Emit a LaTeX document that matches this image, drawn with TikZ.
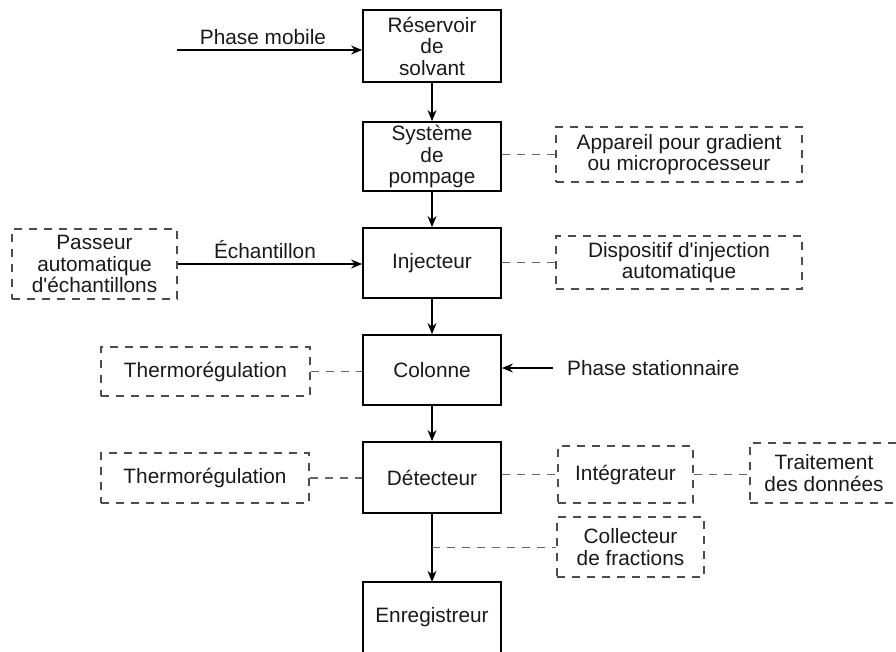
\documentclass[tikz,border=0pt]{standalone}
\usepackage{fontspec}
\setmainfont{Liberation Sans}[Ligatures=TeXOff]
\usetikzlibrary{arrows.meta,calc}
\begin{document}
\begin{tikzpicture}[x=1pt,y=-1pt,
  every node/.append style={font=\fontsize{20.8}{21.5}\selectfont, align=center, inner sep=0pt, text=black!90},
  mainbox/.style={draw, line width=1.8pt, minimum width=138pt},
  auxbox/.style={draw=black!70, dash pattern=on 8pt off 7pt, line width=1.2pt},
  flow/.style={line width=1.3pt, -{Stealth[length=11pt,width=9pt]}},
  link/.style={draw=black!60, dash pattern=on 8pt off 7pt, line width=1.2pt}]
\useasboundingbox (0,0) rectangle (896,651);
% main column
\node[mainbox, minimum height=72pt] (res) at (432,46) {Réservoir\\de\\solvant};
\node[mainbox, minimum height=69pt] (sys) at (432,156.5) {Système\\de\\pompage};
\node[mainbox, minimum height=70pt] (inj) at (432,263) {Injecteur};
\node[mainbox, minimum height=70pt] (col) at (432,370) {Colonne};
\node[mainbox, minimum height=71pt] (det) at (432,477.5) {Détecteur};
\node[minimum width=138pt, minimum height=70pt] (enr) at (432,617) {Enregistreur};
\draw[line width=1.8pt] (enr.south west) -- (enr.north west) -- (enr.north east) -- (enr.south east);
% auxiliary boxes
\node[auxbox, minimum width=246pt, minimum height=55pt] (app) at (679,154.5) {Appareil pour gradient\\ou microprocesseur};
\node[auxbox, minimum width=246pt, minimum height=53pt] (dis) at (679,262.5) {Dispositif d'injection\\automatique};
\node[auxbox, minimum width=165pt, minimum height=70pt] (pas) at (94.5,264) {Passeur\\automatique\\d'échantillons};
\node[auxbox, minimum width=209pt, minimum height=49pt] (th1) at (205.5,371.5) {Thermorégulation};
\node[auxbox, minimum width=208pt, minimum height=50pt] (th2) at (205,478) {Thermorégulation};
\node[auxbox, minimum width=135pt, minimum height=57pt] (int) at (625.5,474.5) {Intégrateur};
\node[auxbox, minimum width=148pt, minimum height=60pt] (tra) at (824,473) {Traitement\\des données};
\node[auxbox, minimum width=147pt, minimum height=60pt] (clf) at (630.5,547) {Collecteur\\de fractions};
% main flow
\draw[flow] (res.south) -- (sys.north);
\draw[flow] (sys.south) -- (inj.north);
\draw[flow] (inj.south) -- (col.north);
\draw[flow] (col.south) -- (det.north);
\draw[flow] (det.south) -- (enr.north);
% inputs
\coordinate (pmstart) at (177,50);
\draw[flow] (pmstart) -- (pmstart -| res.west);
\node (pmlabel) at (263,37) {Phase mobile};
\draw[flow] (pas.east) -- (pas.east -| inj.west);
\node (eclabel) at (265,250) {Échantillon};
\coordinate (psstart) at (553,368);
\draw[flow] (psstart) -- (psstart -| col.east);
\node[anchor=west] (pslabel) at (567,368) {Phase stationnaire};
% dashed links
\draw[link] (sys.east |- app.west) -- (app.west);
\draw[link] (inj.east |- dis.west) -- (dis.west);
\draw[link] (th1.east) -- (th1.east -| col.west);
\draw[link] (th2.east) -- (th2.east -| det.west);
\draw[link] (det.east |- int.west) -- (int.west);
\draw[link] (int.east) -- (int.east -| tra.west);
\coordinate (tap) at ($(det.south)!0.5!(enr.north)$);
\draw[link] (tap) -- (tap -| clf.west);
\end{tikzpicture}
\end{document}
